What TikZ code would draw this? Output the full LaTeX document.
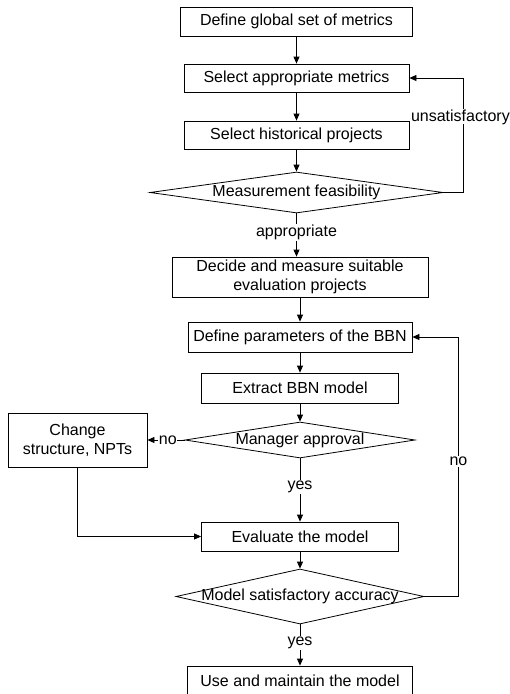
\documentclass[tikz,border=0pt]{standalone}
\usepackage{fontspec}
\setmainfont{Liberation Sans}
\usetikzlibrary{shapes.geometric,arrows.meta}
\tikzset{
	stepbox/.style={draw, rectangle, inner sep=0pt, align=center},
	decision/.style={draw, diamond, inner sep=0pt},
	flow/.style={-{Triangle[length=7pt,width=6pt]}},
	edgelabel/.style={fill=white, inner sep=1pt}
}
\begin{document}
\begin{tikzpicture}
			[x=1pt,y=-1pt,line width=0.8pt,every node/.style={font=\fontsize{16}{19}\selectfont}]
			\useasboundingbox (0,0) rectangle (510,694);
			\node (global)[stepbox, minimum width=232pt, minimum height=29pt] at (296.5,21.5) {Define global set of metrics};
			\node (select)[stepbox, minimum width=225pt, minimum height=28pt] at (296.5,78) {Select appropriate metrics};
			\node (hist)[stepbox, minimum width=225pt, minimum height=28pt] at (296.5,135) {Select historical projects};
			\node (feas)[decision, minimum width=293pt, minimum height=41pt] at (296.5,192.5) {\makebox[0pt]{Measurement feasibility}};
			\node (decide)[stepbox, minimum width=256pt, minimum height=40pt] at (300,277) {Decide and measure suitable\\
									evaluation projects};
			\node (params)[stepbox, minimum width=224pt, minimum height=30pt] at (300,337) {Define parameters of the BBN};
			\node (extract)[stepbox, minimum width=197pt, minimum height=30pt] at (300,388) {Extract BBN model};
			\node (manager)[decision, minimum width=230pt, minimum height=36pt] at (300,440) {\makebox[0pt]{Manager approval}};
			\node (change)[stepbox, minimum width=139pt, minimum height=54pt] at (77.5,440) {Change\\
									structure, NPTs};
			\node (evaluate)[stepbox, minimum width=197pt, minimum height=29pt] at (300,536.5) {Evaluate the model};
			\node (model)[decision, minimum width=248pt, minimum height=55pt] at (300,596.5) {\makebox[0pt]{Model satisfactory accuracy}};
			\node (use)[stepbox, minimum width=225pt, minimum height=30pt] at (300,681) {Use and maintain the model};
			% main flow
			\draw[flow] (global) -- (select);
			\draw[flow] (select) -- (hist);
			\draw[flow] (hist) -- (feas);
			\draw[flow] (feas.south) -- node[edgelabel, pos=0.45]{appropriate} (feas.south |- decide.north);
			\draw[flow] (decide) -- (params);
			\draw[flow] (params) -- (extract);
			\draw[flow] (extract) -- (manager);
			\draw[flow] (manager) -- node[edgelabel, pos=0.45]{yes} (evaluate);
			\draw[flow] (evaluate) -- (model);
			\draw[flow] (model) -- node[edgelabel, pos=0.45]{yes} (use);
			% loops back
			\draw[flow] (feas.east) -- ++(20,0) |- node[edgelabel, pos=0.33, inner sep=0pt, xshift=-3pt]{unsatisfactory} (select.east);
			\draw[flow] (manager.west) -- node[edgelabel, pos=0.45, inner sep=0.5pt]{no} (change.east);
			\draw[flow] (change.south) |- (evaluate.west);
			\draw[flow] (model.east) -- ++(34,0) |- node[edgelabel, pos=0.26]{no} (params.east);
\end{tikzpicture}
\end{document}
